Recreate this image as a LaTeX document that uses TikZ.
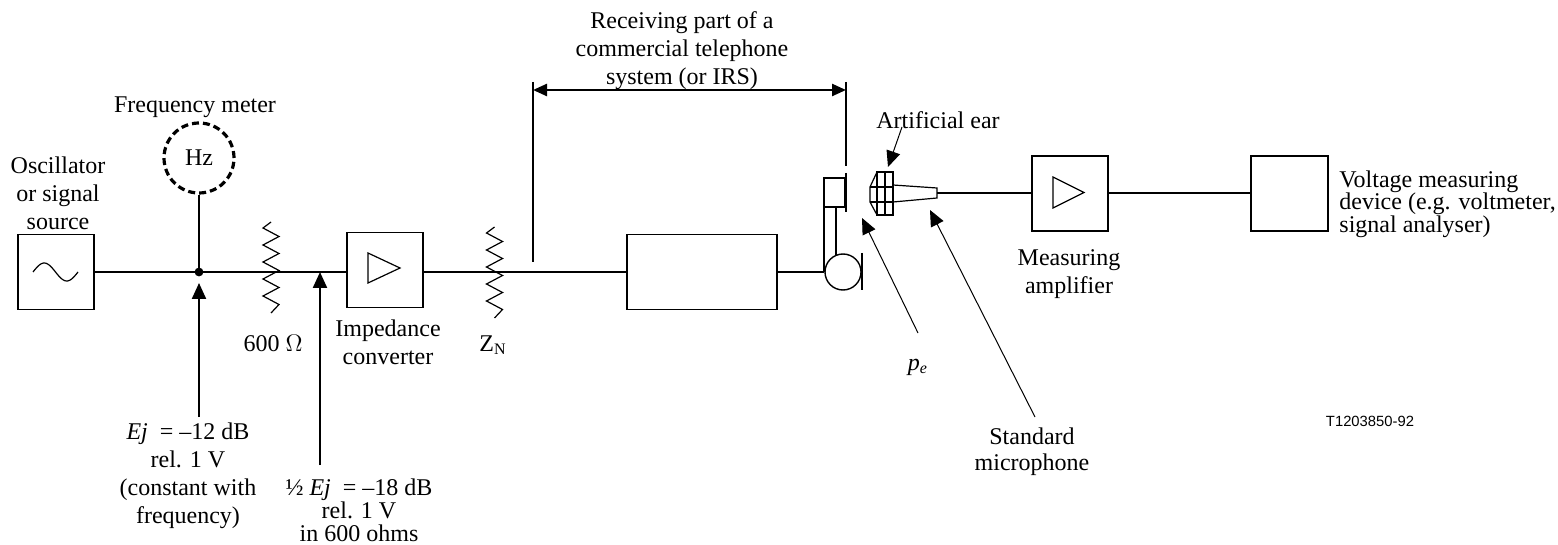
\documentclass[tikz,border=0pt]{standalone}
\usepackage{fontspec}
\setmainfont{Liberation Serif}
\newfontfamily\tsans{Liberation Sans}
\usetikzlibrary{arrows.meta}
\begin{document}
\begin{tikzpicture}[x=0.5pt,y=-0.5pt,
  blk/.style={draw,line width=0.7pt,inner sep=0pt,outer sep=0pt,minimum width=38pt,minimum height=37.5pt},
  wire/.style={line width=1.4pt},
  fine/.style={line width=0.6pt},
  tiph/.style={-{Triangle[length=8pt,width=7pt]}},
  lbl/.style={font=\fontsize{12}{14}\selectfont,align=center,inner sep=0pt},
]
\useasboundingbox (0,0) rectangle (1558,545);
\fill[white] (0,0) rectangle (1558,545);

% oscillator
\node[blk] (osc) at (56,272) {};
\draw[fine] plot[domain=33:78,samples=40,smooth] (\x,{272-9*sin(360*(\x-33)/45)});
\node[lbl] (osclab) at (58,193) {Oscillator\\or signal\\source};

% frequency meter
\node[draw,circle,line width=1.6pt,dash pattern=on 3.5pt off 2pt,minimum size=35pt,inner sep=0pt,font=\fontsize{12}{14}\selectfont] (fm) at (199,158) {Hz};
\node[lbl] (fmlab) at (195,107) {Frequency meter};
\coordinate (jn) at (199,272);
\fill (jn) circle[radius=2.2pt];
\draw[wire] (fm.south) -- (jn);

% impedance converter
\node[blk] (ic) at (385,270) {};
\draw[fine] (368,253) -- (368,283) -- (400,268) -- cycle;
\node[lbl] (iclab) at (388,342) {Impedance\\converter};

% telephone box
\node[blk,minimum width=75pt] (tel) at (702,272) {};

% handset
\coordinate (hs) at (824,272);
\coordinate (hstop) at (824,177);

% main wires
\draw[wire] (osc.east) -- (jn) -- (ic.west |- jn);
\draw[wire] (ic.east |- jn) -- (tel.west);
\draw[wire] (tel.east) -- (hs);
\draw[line width=1.2pt] (hs) -- (hstop);

% resistor 600 ohm
\draw[fine] (271,222) -- (263,228) -- (279,236.5) -- (263,245) -- (279,253.5) -- (263,262) -- (279,270.5) -- (263,279) -- (279,287.5) -- (263,296) -- (279,304.5) -- (271,313);
\node[lbl] (rlab) at (273,343) {600 $\Omega$};
% resistor ZN
\draw[fine] (494.5,227) -- (486.5,233) -- (502.5,241.5) -- (486.5,250) -- (502.5,258.5) -- (486.5,267) -- (502.5,275.5) -- (486.5,284) -- (502.5,292.5) -- (486.5,301) -- (502.5,309.5) -- (494.5,318);
\node[lbl] (znlab) at (493,345) {Z\textsubscript{N}};

% handset parts
\draw[line width=0.7pt] (824,178) rectangle (845,207);
\draw[line width=1.2pt] (846,173) -- (846,212);
\draw[line width=0.7pt] (836,207) -- (836,255.4);
\node[draw,circle,line width=0.7pt,minimum size=18pt,inner sep=0pt] (mouth) at (843,272) {};
\draw[line width=1.2pt] (862,253) -- (862,290);

% dimension
\coordinate (dimL) at (533,90);
\coordinate (dimR) at (846,90);
\draw[fine] (533,82) -- (533,262);
\draw[line width=1pt] (846,82) -- (846,166);
\draw[line width=1.2pt,{Triangle[length=7pt,width=6pt]}-{Triangle[length=7pt,width=6pt]}] (dimL) -- (dimR);
\node[lbl] (reclab) at (682,51) {Receiving part of a\\commercial telephone\\system (or IRS)};

% artificial ear
\draw[fine] (877,172) rectangle (893,215);
\draw[fine] (885,172) -- (885,215);
\draw[fine] (877,172) -- (870,187) -- (870,202) -- (877,215);
\draw[fine] (870,187) -- (893,187);
\draw[fine] (870,202) -- (893,202);
\draw[fine] (893,185) -- (937,188) -- (937,198) -- (893,202);
\coordinate (earout) at (937,193);
\node[lbl,anchor=west] (earlab) at (876,120) {Artificial ear};
\coordinate (eartip) at (888,167);
\draw[line width=0.5pt,tiph] (902,127) -- (eartip);

% measuring amplifier
\node[blk] (amp) at (1070,193.5) {};
\draw[fine] (1053,177) -- (1053,208) -- (1084,192.5) -- cycle;
\node[lbl] (amplab) at (1069,274) {Measuring\\amplifier};
\node[blk,minimum width=38.5pt] (vm) at (1289.5,193.5) {};
\node[anchor=west,align=left,inner sep=0pt,font=\fontsize{12}{11.2}\selectfont] (vmlab) at (1339,204) {Voltage measuring\\device (e.g. voltmeter,\\signal analyser)};
\draw[wire] (earout) -- (amp.west |- earout);
\draw[wire] (amp.east |- earout) -- (vm.west |- earout);

% pe and microphone
\node[lbl] (pelab) at (918,367) {\textit{p}\textsubscript{\textit{e}}};
\coordinate (petip) at (862,218);
\draw[line width=0.5pt,tiph] (918,333) -- (petip);
\node[lbl,font=\fontsize{12}{13}\selectfont] (miclab) at (1032,452) {Standard\\microphone};
\coordinate (mictip) at (930,210);
\draw[line width=0.5pt,tiph] (1035,417) -- (mictip);

% bottom labels
\node[lbl] (ejlab) at (188,476) {\textit{Ej}\ \ = --12 dB\\rel. 1 V\\(constant with\\frequency)};
\draw[line width=1.1pt,tiph] (199,417) -- (199,283);
\node[lbl,font=\fontsize{12}{11.5}\selectfont] (hejlab) at (359,510) {½ \textit{Ej}\ \ = --18 dB\\rel. 1 V\\in 600 ohms};
\coordinate (j2) at (320,272);
\draw[line width=1.1pt,tiph] (320,465) -- (j2);

\node[font=\tsans\fontsize{7.4}{9}\selectfont,inner sep=0pt] (tlab) at (1370,421) {T1203850-92};
\end{tikzpicture}
\end{document}
